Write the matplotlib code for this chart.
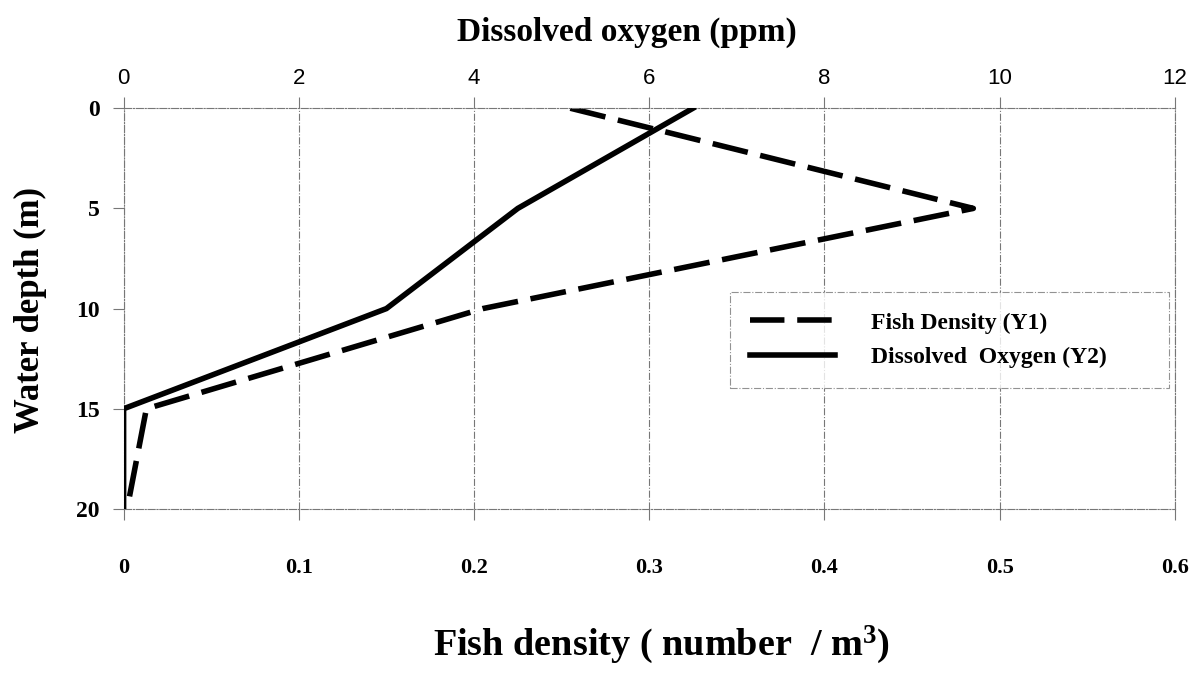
import matplotlib.pyplot as plt
from matplotlib.lines import Line2D

# profil de profondeur
depth = [0, 5, 10, 15, 20]
fish_density = [0.255, 0.485, 0.205, 0.013, 0.002]
fish_depth = [0, 5, 10, 15, 20]
oxygen = [6.5, 4.5, 3.0, 0.0, 0.0]

x_ticks = [0, 0.1, 0.2, 0.3, 0.4, 0.5, 0.6]
x_labels = ["0", "0.1", "0.2", "0.3", "0.4", "0.5", "0.6"]
top_ticks = [0, 2, 4, 6, 8, 10, 12]
y_ticks = [0, 5, 10, 15, 20]

serif = "Liberation Serif"
grid_col = "#777777"

# exposant en serif gras
plt.rcParams["mathtext.fontset"] = "custom"
plt.rcParams["mathtext.rm"] = "Liberation Serif:bold"
plt.rcParams["mathtext.it"] = "Liberation Serif:bold"
plt.rcParams["mathtext.bf"] = "Liberation Serif:bold"

fig = plt.figure(figsize=(12, 6.85), dpi=100)
ax = fig.add_axes([0.103, 0.257, 0.876, 0.585])

ax.set_xlim(0, 0.6)
ax.set_ylim(20, 0)
ax.set_xticks(x_ticks)
ax.set_xticklabels(x_labels, fontfamily=serif, fontweight="bold", fontsize=16)
ax.set_yticks(y_ticks)
ax.set_yticklabels([str(v) for v in y_ticks], fontfamily=serif, fontweight="bold", fontsize=17)
ax.tick_params(axis="x", direction="out", length=8, width=0.8, color=grid_col, pad=27)
ax.tick_params(axis="y", direction="out", length=8, width=0.8, color=grid_col, pad=9)
ax.grid(axis="x", color=grid_col, linestyle="-.", linewidth=0.8)

for s in ax.spines.values():
    s.set_color(grid_col)
    s.set_linestyle("-.")
    s.set_linewidth(0.8)

ax.plot(fish_density, fish_depth, color="black", linewidth=4,
        dashes=(6.5, 2.3), solid_capstyle="butt")

ax2 = ax.twiny()
ax2.set_xlim(0, 12)
ax2.set_xticks(top_ticks)
ax2.set_xticklabels([str(v) for v in top_ticks], fontfamily="Liberation Sans", fontsize=16)
ax2.tick_params(axis="x", direction="out", length=8, width=0.8, color=grid_col, pad=6)
for s in ax2.spines.values():
    s.set_visible(False)
ax2.plot(oxygen, depth, color="black", linewidth=4, solid_joinstyle="miter")

# titres des axes
fig.text(0.551, 0.043, "Fish density ( number  / m$^{3}$)", fontfamily=serif,
         fontweight="bold", fontsize=27.5, ha="center", va="baseline")
fig.text(0.025, 0.548, "Water depth (m)", fontfamily=serif, fontweight="bold",
         fontsize=25, rotation=90, ha="center", va="center")
fig.text(0.522, 0.94, "Dissolved oxygen (ppm)", fontfamily=serif, fontweight="bold",
         fontsize=24, ha="center", va="baseline")

handles = [
    Line2D([], [], color="black", linewidth=4, dashes=(6.2, 2.3)),
    Line2D([], [], color="black", linewidth=4),
]
leg = ax2.legend(handles, ["Fish Density (Y1)", "Dissolved  Oxygen (Y2)"],
                 loc="upper left", bbox_to_anchor=(0.566, 0.571, 0.44, 0.0),
                 mode="expand", fancybox=False, handlelength=3.6, handletextpad=1.5,
                 borderpad=0.85, labelspacing=0.55,
                 prop={"family": serif, "weight": "bold", "size": 17})
leg.get_frame().set_edgecolor(grid_col)
leg.get_frame().set_linestyle("-.")
leg.get_frame().set_linewidth(0.8)

fig.savefig("out.png", dpi=100)
